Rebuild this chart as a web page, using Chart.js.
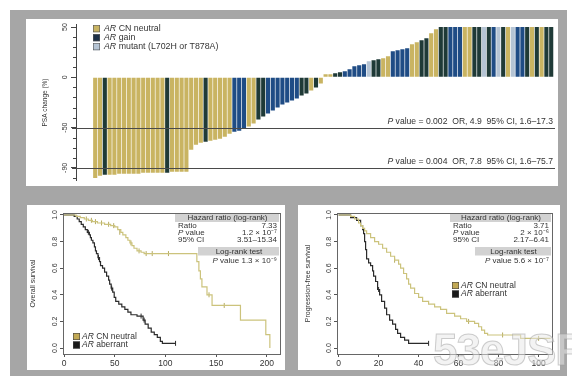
<!DOCTYPE html>
<html><head><meta charset="utf-8">
<script src="https://cdn.jsdelivr.net/npm/chart.js@4.4.1/dist/chart.umd.min.js"></script>
<style>
html,body{margin:0;padding:0;background:#fff;width:572px;height:376px;overflow:hidden;position:relative;}
#frame{position:absolute;left:10px;top:10px;width:557px;height:366px;background:#a6a6a6;}
.panel{position:absolute;background:#fff;}
canvas{display:block;}
#wm{position:absolute;left:433px;top:328px;font:bold 44px "Liberation Sans",Arial,sans-serif;line-height:44px;color:rgba(232,232,232,0.5);-webkit-text-stroke:1px rgba(160,160,160,0.5);letter-spacing:-1px;white-space:nowrap;pointer-events:none;}
</style></head><body>
<div id="frame"></div>
<div class="panel" style="left:26px;top:19px;width:532px;height:167px"><canvas id="c1" width="532" height="167"></canvas></div>
<div class="panel" style="left:27px;top:205px;width:258px;height:165px"><canvas id="c2" width="258" height="165"></canvas></div>
<div class="panel" style="left:298px;top:205px;width:262px;height:165px"><canvas id="c3" width="262" height="165"></canvas></div>
<div id="wm">53eJSF</div>
<script>
const FONT = '"Liberation Sans", Arial, sans-serif';

// ---------- Waterfall data ----------
const psaChange = [
  -100,-98,-97,-97,-97,-96,-96,-96,-96,-96,-95,-95,-95,-95,-95,-95,-94,-94,-94,-94,
  -72,-67,-65,-64,-63,-62,-61,-59,-56,-54,-53,-51,-49,-46,-42,-39,-36,-33,-30,-27,
  -25,-23,-21,-18,-16,-13,-10,-6,
  3,3,4,5,6,8,11,12,13,16,17,18,19,21,26,27,28,29,33,35,37,39,44,48,
  50,50,50,50,50,50,50,50,50,50,50,50,50,50,50,50,50,50,50,50,50,50,50,50
];
const arStatus = [
  'N','N','G','N','N','N','N','N','N','N','N','N','N','N','N','G','N','N','N','N',
  'N','N','N','G','N','N','N','N','N','B','B','B','N','N','G','G','B','B','B','B',
  'B','B','B','G','G','N','G','N',
  'N','N','G','G','B','B','B','B','B','M','G','G','N','N','B','B','B','B','N','N','G','G','N','N',
  'G','G','B','B','B','N','N','G','G','M','G','B','M','G','N','M','B','B','G','N','G','N','G','G'
];
const psaTickLabels = [50, 0, -50, -90];
const psaMinorTicks = [50,40,30,20,10,0,-10,-20,-30,-40,-50,-60,-70,-80,-90,-100];
const psaThresholds = [-50, -90];
const psaStatText = [' value = 0.002  OR, 4.9  95% CI, 1.6\u201317.3', ' value = 0.004  OR, 7.8  95% CI, 1.6\u201375.7'];
const psaLegend = [[' CN neutral', 'N'], [' gain', 'L'], [' mutant (L702H or T878A)', 'M']];

// ---------- Kaplan-Meier data ----------
const osNeutralT = [0,12,16,20,24,28,33,40,46,50,53,56,58,61,63,65,67,69,72,76,79,131,133,134.5,136,141,146,174,199,203];
const osNeutralS = [1,0.99,0.98,0.97,0.96,0.95,0.94,0.93,0.92,0.91,0.89,0.87,0.85,0.83,0.81,0.79,0.77,0.75,0.73,0.72,0.71,0.65,0.58,0.52,0.46,0.40,0.32,0.21,0.10,0];
const osAberrantT = [0,10,13,15,17,19,21,23,25,26,27,28.5,30,31,32,33.5,35,36,38,40,42,44,45,46.5,48,49.5,51,54,57,60,63,66,72,78,80,83,86,89,92,95,97,110];
const osAberrantS = [1,0.99,0.97,0.95,0.93,0.91,0.89,0.87,0.85,0.83,0.81,0.79,0.76,0.73,0.71,0.68,0.65,0.62,0.60,0.57,0.54,0.51,0.48,0.45,0.42,0.38,0.35,0.33,0.31,0.29,0.27,0.25,0.24,0.21,0.18,0.15,0.12,0.10,0.08,0.05,0.035,0.035];
const osNeutralCensT = [22,27,31,37,44,49,55,66,74,81,87,103,143,158];
const osNeutralCensS = [0.97,0.96,0.95,0.94,0.93,0.92,0.87,0.79,0.73,0.71,0.71,0.71,0.40,0.32];
const osAberrantCensT = [24,34,47,76,79,110];
const osAberrantCensS = [0.87,0.68,0.45,0.24,0.21,0.035];

const pfsNeutralT = [0,6,8,10,11,12,13,14,16,18,20,22,24,26,28,30,31,32.5,34,35,36,38,40,42,45,48,51,54,58,61,64,68,70,71.5,73,74.5,91,106];
const pfsNeutralS = [1,0.99,0.97,0.94,0.92,0.90,0.88,0.86,0.83,0.80,0.78,0.75,0.72,0.69,0.66,0.63,0.60,0.56,0.52,0.48,0.45,0.41,0.38,0.35,0.33,0.31,0.29,0.26,0.24,0.22,0.20,0.185,0.16,0.135,0.11,0.098,0.073,0.073];
const pfsAberrantT = [0,6,9,11,12,12.5,13,13.5,14,15,16,17,17.5,18.5,19.5,20.5,21.5,23,24,25.5,27,28.5,29.5,31,33,35,45];
const pfsAberrantS = [1,0.98,0.96,0.92,0.89,0.86,0.80,0.74,0.67,0.64,0.62,0.58,0.54,0.50,0.44,0.40,0.35,0.30,0.25,0.21,0.18,0.14,0.11,0.08,0.06,0.035,0.035];
const pfsNeutralCensT = [28,65,82,100];
const pfsNeutralCensS = [0.66,0.20,0.098,0.073];
const pfsAberrantCensT = [20,45];
const pfsAberrantCensS = [0.44,0.035];

const kmYTicks = [0,0.2,0.4,0.6,0.8,1.0];
const osXTicks = [0,50,100,150,200];
const pfsXTicks = [0,20,40,60,80,100];
const osStats = ['7.33', '1.2 \u00d7 10\u207b\u2077', '3.51\u201315.34', ' value 1.3 \u00d7 10\u207b\u2079'];
const pfsStats = ['3.71', '2 \u00d7 10\u207b\u2076', '2.17\u20136.41', ' value 5.6 \u00d7 10\u207b\u2077'];

// ---------- styles ----------
const BAR_COLORS = {N:'#c9b462', G:'#1f3a37', B:'#1f4c85', M:'#b5c4d4', L:'#1d3047'};
const GOLD_LINE = '#ccc37c';
const DARK_LINE = '#2b2b2b';

function richText(ctx, parts, x, y, align, size, color) {
  ctx.save();
  ctx.fillStyle = color || '#333';
  ctx.textBaseline = 'middle';
  ctx.textAlign = 'left';
  let total = 0;
  const ws = parts.map(p => { ctx.font = (p[1] ? 'italic ' : '') + size + 'px ' + FONT; const w = ctx.measureText(p[0]).width; total += w; return w; });
  let cx = align === 'right' ? x - total : (align === 'center' ? x - total / 2 : x);
  parts.forEach((p, i) => { ctx.font = (p[1] ? 'italic ' : '') + size + 'px ' + FONT; ctx.fillText(p[0], cx, y); cx += ws[i]; });
  ctx.restore();
}

const psaPlugin = {
  id: 'psaExtras',
  afterDatasetsDraw(chart) {
    const {ctx, chartArea: a} = chart;
    const y = chart.scales.y;
    ctx.save();
    ctx.strokeStyle = '#4a4a4a'; ctx.lineWidth = 1;
    psaThresholds.forEach(v => {
      const py = Math.round(y.getPixelForValue(v)) + 0.5;
      ctx.beginPath(); ctx.moveTo(a.left - 4, py); ctx.lineTo(a.right - 1, py); ctx.stroke();
    });
    ctx.strokeStyle = '#444';
    psaMinorTicks.forEach(v => {
      const py = Math.round(y.getPixelForValue(v)) + 0.5;
      ctx.beginPath(); ctx.moveTo(a.left - 3, py); ctx.lineTo(a.left, py); ctx.stroke();
    });
    ctx.restore();
    psaThresholds.forEach((v, k) => richText(ctx, [['P', true], [psaStatText[k], false]], a.right - 3, y.getPixelForValue(v) - 6, 'right', 8.6, '#333'));
    psaLegend.forEach((row, k) => {
      const bx = a.left + 17, by = a.top + 1 + k * 9;
      ctx.save();
      ctx.fillStyle = BAR_COLORS[row[1]];
      ctx.fillRect(bx, by, 7, 7);
      ctx.strokeStyle = '#555'; ctx.lineWidth = 0.6; ctx.strokeRect(bx + 0.3, by + 0.3, 6.4, 6.4);
      ctx.restore();
      richText(ctx, [['AR', true], [row[0], false]], bx + 11, by + 3.5, 'left', 8.8, '#333');
    });
  }
};

new Chart(document.getElementById('c1'), {
  type: 'bar',
  data: {
    datasets: [{
      data: psaChange.map((v, i) => ({x: i, y: v})),
      backgroundColor: arStatus.map(s => BAR_COLORS[s]),
      borderWidth: 0,
      barPercentage: 0.86,
      categoryPercentage: 1
    }]
  },
  options: {
    responsive: false, animation: false, devicePixelRatio: 1,
    layout: {padding: {left: 0, right: 2, top: 2, bottom: 3}},
    plugins: {legend: {display: false}, tooltip: {enabled: false}},
    scales: {
      x: {type: 'linear', min: -4, max: 96, offset: false, display: false, grid: {offset: false}},
      y: {
        min: -102.9, max: 52.9,
        afterFit(s) { s.width = 50; },
        afterBuildTicks(s) { s.ticks = psaTickLabels.map(v => ({value: v})); },
        border: {color: '#444', width: 1},
        grid: {drawOnChartArea: false, tickLength: 5, color: '#444'},
        ticks: {minRotation: 90, maxRotation: 90, crossAlign: 'center', padding: 1, font: {size: 7, family: FONT}, color: '#333', callback: v => String(v)},
        title: {display: true, text: 'PSA change (%)', font: {size: 6.5, family: FONT}, color: '#333', padding: {top: 15, bottom: 0}}
      }
    }
  },
  plugins: [psaPlugin]
});

const kmPlugin = {
  id: 'kmExtras',
  afterDraw(chart) {
    const o = chart.options.plugins.kmExtras;
    const {ctx, chartArea: a} = chart;
    const R = a.right, T = a.top;
    const fs = 8;
    ctx.save();
    ctx.strokeStyle = '#666'; ctx.lineWidth = 1;
    ctx.strokeRect(Math.round(a.left) + 0.5, Math.round(a.top) + 0.5, Math.round(a.right - a.left), Math.round(a.bottom - a.top));
    ctx.fillStyle = '#d2d2d2';
    ctx.fillRect(R - o.hw, T + 1, o.hw - 1, 8);
    ctx.fillRect(R - o.lw, T + 34, o.lw - 1, 8.5);
    ctx.restore();
    richText(ctx, [['Hazard ratio (log-rank)', false]], R - o.hw / 2, T + 5, 'center', fs, '#333');
    const lx = R - o.hw + 3, rx = R - 3;
    richText(ctx, [['Ratio', false]], lx, T + 12.5, 'left', fs, '#333');
    richText(ctx, [[o.stats[0], false]], rx, T + 12.5, 'right', fs, '#333');
    richText(ctx, [['P', true], [' value', false]], lx, T + 19.5, 'left', fs, '#333');
    richText(ctx, [[o.stats[1], false]], rx, T + 19.5, 'right', fs, '#333');
    richText(ctx, [['95% CI', false]], lx, T + 26.5, 'left', fs, '#333');
    richText(ctx, [[o.stats[2], false]], rx, T + 26.5, 'right', fs, '#333');
    richText(ctx, [['Log-rank test', false]], R - o.lw / 2, T + 38.3, 'center', fs, '#333');
    richText(ctx, [['P', true], [o.stats[3], false]], rx, T + 48, 'right', fs, '#333');
    const rows = [[' CN neutral', '#c2a955'], [' aberrant', '#1a1a1a']];
    rows.forEach((r, k) => {
      const bx = a.left + o.lgx, by = a.top + o.lgy + k * 8.5;
      ctx.save();
      ctx.fillStyle = r[1]; ctx.fillRect(bx, by, 7, 7);
      ctx.strokeStyle = '#444'; ctx.lineWidth = 0.6; ctx.strokeRect(bx + 0.3, by + 0.3, 6.4, 6.4);
      ctx.restore();
      richText(ctx, [['AR', true], [r[0], false]], bx + 9, by + 3.5, 'left', 8.5, '#333');
    });
  }
};

function stepData(T, S) { return T.map((t, i) => ({x: t, y: S[i]})); }

function makeKM(id, cfg) {
  new Chart(document.getElementById(id), {
    type: 'line',
    data: {
      datasets: [
        {data: stepData(cfg.nT, cfg.nS), borderColor: GOLD_LINE, borderWidth: 1.2, stepped: true, pointRadius: 0, fill: false},
        {data: stepData(cfg.aT, cfg.aS), borderColor: DARK_LINE, borderWidth: 1.2, stepped: true, pointRadius: 0, fill: false},
        {data: stepData(cfg.ncT, cfg.ncS), showLine: false, pointStyle: 'line', rotation: 90, pointRadius: 2.5, pointBorderColor: '#b5ab60', pointBorderWidth: 1, borderColor: '#b5ab60'},
        {data: stepData(cfg.acT, cfg.acS), showLine: false, pointStyle: 'line', rotation: 90, pointRadius: 2.5, pointBorderColor: DARK_LINE, pointBorderWidth: 1, borderColor: DARK_LINE}
      ]
    },
    options: {
      responsive: false, animation: false, devicePixelRatio: 1,
      layout: {padding: {left: 0, right: cfg.padR, top: 8, bottom: 0}},
      plugins: {legend: {display: false}, tooltip: {enabled: false}, kmExtras: cfg.extra},
      scales: {
        x: {
          type: 'linear', min: cfg.xmin, max: cfg.xmax,
          afterFit(s) { s.height = 16; },
          afterBuildTicks(s) { s.ticks = cfg.xTicks.map(v => ({value: v})); },
          border: {color: '#555', width: 1},
          grid: {drawOnChartArea: false, tickLength: 3, color: '#555'},
          ticks: {padding: 2, maxRotation: 0, font: {size: 8.5, family: FONT}, color: '#333'}
        },
        y: {
          type: 'linear', min: -0.045, max: 1.015,
          afterFit(s) { s.width = cfg.yw; },
          afterBuildTicks(s) { s.ticks = kmYTicks.map(v => ({value: v})); },
          border: {color: '#555', width: 1},
          grid: {drawOnChartArea: false, tickLength: 3, color: '#555'},
          ticks: {minRotation: 90, maxRotation: 90, crossAlign: 'center', padding: 0, font: {size: 7, family: FONT}, color: '#333', callback: v => Number(v).toFixed(1)},
          title: {display: true, text: cfg.title, font: {size: 7, family: FONT}, color: '#333', padding: {top: cfg.titlePad, bottom: 0}}
        }
      }
    },
    plugins: [kmPlugin]
  });
}

makeKM('c2', {
  nT: osNeutralT, nS: osNeutralS, aT: osAberrantT, aS: osAberrantS,
  ncT: osNeutralCensT, ncS: osNeutralCensS, acT: osAberrantCensT, acS: osAberrantCensS,
  xmin: -1, xmax: 213, xTicks: osXTicks, yw: 36, padR: 5, title: 'Overall survival', titlePad: 2,
  extra: {hw: 105, lw: 82, stats: osStats, lgx: 10, lgy: 120}
});
makeKM('c3', {
  nT: pfsNeutralT, nS: pfsNeutralS, aT: pfsAberrantT, aS: pfsAberrantS,
  ncT: pfsNeutralCensT, ncS: pfsNeutralCensS, acT: pfsAberrantCensT, acS: pfsAberrantCensS,
  xmin: -0.8, xmax: 106.7, xTicks: pfsXTicks, yw: 39, padR: 8, title: 'Progression-free survival', titlePad: 6,
  extra: {hw: 102, lw: 77, stats: pfsStats, lgx: 115, lgy: 69}
});
</script>
</body></html>
